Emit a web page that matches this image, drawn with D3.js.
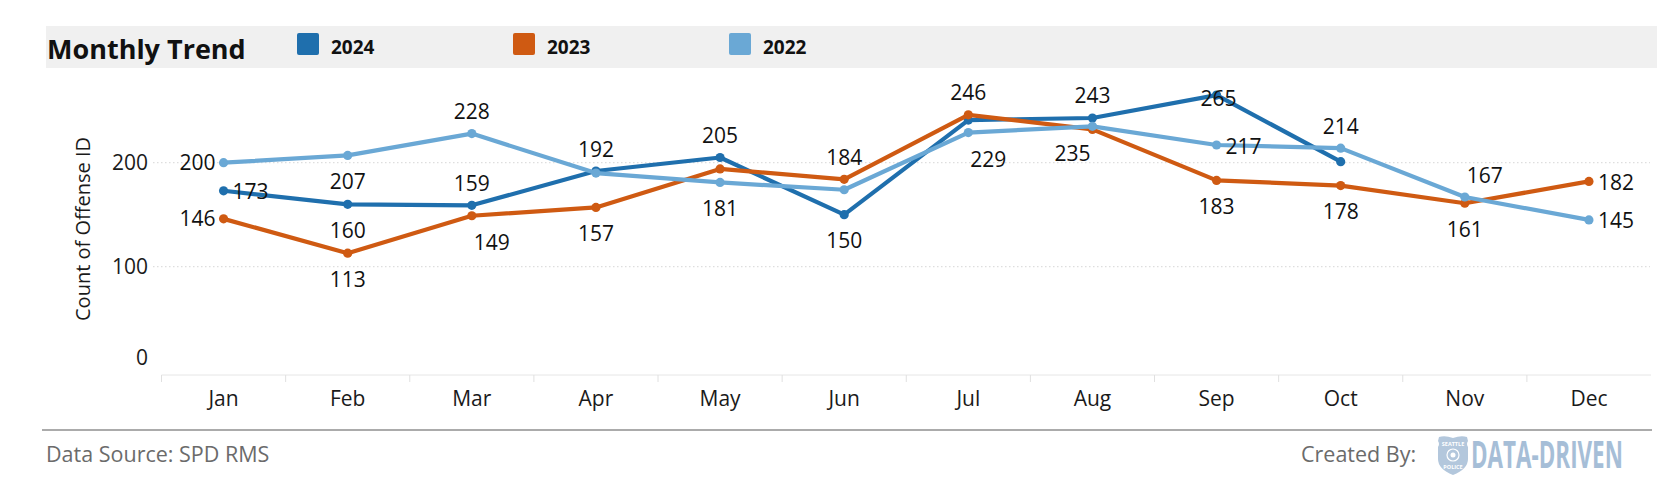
<!DOCTYPE html>
<html>
<head>
<meta charset="utf-8">
<script src="https://cdn.jsdelivr.net/npm/d3@7/dist/d3.min.js"></script>
<style>
  html, body { margin: 0; padding: 0; background: #fff; }
  svg { display: block; }
  text { font-family: "Open Sans", "DejaVu Sans", sans-serif; }
</style>
</head>
<body>
<svg id="chart" width="1670" height="482"></svg>
<script>
// ---------- data ----------
const months = ["Jan","Feb","Mar","Apr","May","Jun","Jul","Aug","Sep","Oct","Nov","Dec"];
const seriesNames = ["2024","2023","2022"];
const values2024 = [173,160,159,192,205,150,241,243,265,201];
const values2023 = [146,113,149,157,194,184,246,232,183,178,161,182];
const values2022 = [200,207,228,190,181,174,229,235,217,214,167,145];
const yTicks = [0,100,200];
// label placement per point ("" = no label)
const labels2024 = ["r","b","a","a","a","b","","a","c",""];
const labels2023 = ["l","b","br","b","","a","a","","b","b","b","r"];
const labels2022 = ["l","b","a","","b","","br","bl","r","a","ar","r"];

const colors = {"2024":"#1f6fad","2023":"#cf5a12","2022":"#6aa8d5"};

const series = [
  {name:"2022", values:values2022, labels:labels2022},
  {name:"2023", values:values2023, labels:labels2023},
  {name:"2024", values:values2024, labels:labels2024}
];

const svg = d3.select("#chart");

// ---------- header ----------
svg.append("rect").attr("x",46).attr("y",26).attr("width",1611).attr("height",42)
  .attr("fill","#f0f0f0");
svg.append("text").attr("x",47).attr("y",59).attr("font-size",27).attr("font-weight",700)
  .attr("fill","#111").text("Monthly Trend");

const legend = svg.append("g");
seriesNames.forEach((n,i)=>{
  const g = legend.append("g").attr("transform",`translate(${297+i*216},33)`);
  g.append("rect").attr("width",22).attr("height",22).attr("rx",2).attr("fill",colors[n]);
  g.append("text").attr("x",34).attr("y",21).attr("font-size",19).attr("font-weight",700)
    .attr("fill","#111").text(n);
});

// ---------- scales ----------
const x = d3.scaleBand().domain(months).range([161.5,1651]).paddingInner(0).paddingOuter(0);
const cx = m => x(m) + x.bandwidth()/2;
const y = d3.scaleLinear().domain([0,280]).range([370.7, 370.7-280*1.04]);

// gridlines
svg.append("g").selectAll("line").data(yTicks.filter(t=>t>0)).join("line")
  .attr("x1",153).attr("x2",1650).attr("y1",d=>y(d)).attr("y2",d=>y(d))
  .attr("stroke","#dedede").attr("stroke-width",1.2).attr("stroke-dasharray","1.5,2.5");

// y axis
const yAxis = svg.append("g").attr("transform","translate(156,0)")
  .call(d3.axisLeft(y).tickValues(yTicks).tickSize(0).tickPadding(8).tickFormat(d3.format("d")));
yAxis.select(".domain").remove();
yAxis.selectAll("text").attr("font-size",21).attr("fill","#1a1a1a")
  .attr("font-family","'Open Sans', sans-serif")
  .attr("dy", d => d===0 ? "-0.28em" : "0.33em");

svg.append("text").attr("transform","translate(89.5,229) rotate(-90)")
  .attr("text-anchor","middle").attr("font-size",20).attr("fill","#1a1a1a")
  .text("Count of Offense ID");

// x axis
const xAxisG = svg.append("g").attr("transform","translate(0,375)");
xAxisG.append("line").attr("x1",161.5).attr("x2",1651).attr("y1",0).attr("y2",0)
  .attr("stroke","#e6e6e6").attr("stroke-width",1);
xAxisG.selectAll("line.tk").data(months.slice(1)).join("line").attr("class","tk")
  .attr("x1",d=>x(d)).attr("x2",d=>x(d)).attr("y1",0).attr("y2",7)
  .attr("stroke","#e0e0e0");
xAxisG.append("line").attr("x1",161.5).attr("x2",161.5).attr("y1",0).attr("y2",7).attr("stroke","#e0e0e0");
xAxisG.selectAll("text").data(months).join("text")
  .attr("x",d=>cx(d)).attr("y",30.5).attr("text-anchor","middle")
  .attr("font-size",21).attr("fill","#1a1a1a").text(d=>d);

// ---------- lines ----------
const line = d3.line().x((d,i)=>cx(months[i])).y(d=>y(d));
const drawOrder = [series[2], series[1], series[0]]; // 2024, 2023, 2022 (2022 on top)
drawOrder.forEach(s=>{
  const g = svg.append("g");
  g.append("path").datum(s.values).attr("d",line).attr("fill","none")
    .attr("stroke",colors[s.name]).attr("stroke-width",4.2)
    .attr("stroke-linejoin","round").attr("stroke-linecap","round");
  g.selectAll("circle").data(s.values).join("circle")
    .attr("cx",(d,i)=>cx(months[i])).attr("cy",d=>y(d)).attr("r",4.6)
    .attr("fill",colors[s.name]);
});

// ---------- labels ----------
const off = {
  a:  {dx:0,  dy:-22, anchor:"middle"},
  b:  {dx:0,  dy:26,  anchor:"middle"},
  l:  {dx:-8, dy:0,   anchor:"end"},
  r:  {dx:9,  dy:1,   anchor:"start"},
  br: {dx:20, dy:27,  anchor:"middle"},
  bl: {dx:-20,dy:27,  anchor:"middle"},
  ar: {dx:20, dy:-22, anchor:"middle"},
  c:  {dx:2,  dy:3,   anchor:"middle"}
};
const labG = svg.append("g");
series.forEach(s=>{
  s.values.forEach((v,i)=>{
    const p = s.labels[i];
    if(!p) return;
    const o = off[p];
    labG.append("text")
      .attr("x", cx(months[i]) + o.dx)
      .attr("y", y(v) + o.dy + 7.5)
      .attr("text-anchor", o.anchor)
      .attr("font-size",21).attr("fill","#111").text(v);
  });
});

// ---------- footer ----------
svg.append("line").attr("x1",42).attr("x2",1652).attr("y1",430).attr("y2",430)
  .attr("stroke","#ababab").attr("stroke-width",2);
svg.append("text").attr("x",46).attr("y",462).attr("font-size",21.5).attr("fill","#6b6b6b")
  .text("Data Source: SPD RMS");
svg.append("text").attr("x",1301).attr("y",462).attr("font-size",21.5).attr("fill","#6b6b6b")
  .text("Created By:");

// logo
const logo = svg.append("g").attr("transform","translate(1437,435)");
logo.append("path")
  .attr("d","M2,2 Q8,0 16,3 Q24,0 30,2 L31,6 Q29,9 31,12 L31,24 Q31,34 16,40 Q1,34 1,24 L1,12 Q3,9 1,6 Z")
  .attr("fill","#b3c7dc");
logo.append("text").attr("x",16).attr("y",11).attr("text-anchor","middle")
  .attr("font-size",5.5).attr("font-weight",700).attr("fill","#fff").text("SEATTLE");
logo.append("circle").attr("cx",16).attr("cy",20).attr("r",6).attr("fill","none")
  .attr("stroke","#fff").attr("stroke-width",1.2);
logo.append("circle").attr("cx",16).attr("cy",20).attr("r",2.5).attr("fill","#fff");
logo.append("text").attr("x",16).attr("y",34).attr("text-anchor","middle")
  .attr("font-size",5.5).attr("font-weight",700).attr("fill","#fff").text("POLICE");
const brand = svg.append("g").attr("transform","translate(1471,468)");
const brandText = brand.append("text").attr("x",0).attr("y",0).attr("font-size",37).attr("font-weight",700)
  .attr("font-family","'Liberation Sans Narrow','Roboto',sans-serif")
  .attr("fill","#a6bed7").text("DATA-DRIVEN");
const natW = brandText.node().getComputedTextLength();
brand.attr("transform",`translate(1471,468) scale(${152/natW},1)`);
</script>
</body>
</html>
